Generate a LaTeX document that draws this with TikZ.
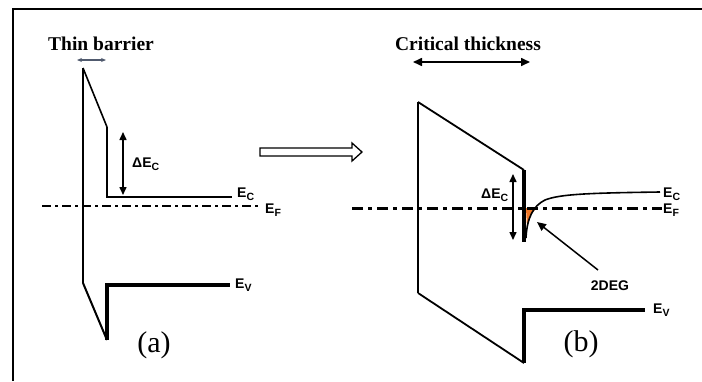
\documentclass[tikz,border=0pt]{standalone}
\usepackage{fontspec}
\setmainfont{Liberation Serif}
\setsansfont{Liberation Sans}
\usetikzlibrary{arrows.meta}
\newcommand\sbs[1]{\raisebox{-0.45ex}{\fontsize{10.5}{10.5}\selectfont #1}}
\definecolor{degorange}{RGB}{240,120,40}
\definecolor{slatearrow}{RGB}{80,90,110}
\begin{document}
\begin{tikzpicture}[x=1pt,y=-1pt,
  thinband/.style={line width=1.8pt, line join=miter},
  thickband/.style={line width=3.2pt, line join=miter},
  lbl/.style={font=\sffamily\bfseries\fontsize{14}{14}\selectfont, inner sep=0, anchor=base west},
  ttl/.style={font=\bfseries\fontsize{19.5}{19.5}\selectfont, inner sep=0, anchor=base},
  panel/.style={font=\fontsize{30}{30}\selectfont, inner sep=0},
  dimarrow/.style={line width=1.5pt, {Triangle[length=8pt,width=7pt]}-{Triangle[length=8pt,width=7pt]}},
  efa/.style={line width=1.4pt, dash pattern=on 9pt off 4pt on 3pt off 4pt},
  efb/.style={line width=3pt, dash pattern=on 11pt off 5pt on 4pt off 5pt}]
\useasboundingbox (0,0) rectangle (702,381);
% frame
\draw[line width=2pt] (13,381) -- (13,9) -- (702,9);

% ---------- panel (a) ----------
\node[ttl] (thin) at (101,50) {Thin barrier};
\coordinate (ta1) at (77,60); \coordinate (ta2) at (106,60);
\draw[slatearrow, line width=1.2pt, {Stealth[length=5pt,width=4pt]}-{Stealth[length=5pt,width=4pt]}] (ta1) -- (ta2);

\coordinate (a1) at (83,68);
\coordinate (a2) at (107,127);
\coordinate (a3) at (107,197);
\coordinate (a4) at (232,197);
\coordinate (a5) at (83,283);
\coordinate (a6) at (107,340);
\coordinate (a7) at (107,285);
\coordinate (a8) at (230,285);
\draw[line width=2.2pt] (a1) -- (a5);
\draw[thinband, line width=1.6pt] (a1) -- (a2);
\draw[thinband, line width=2.4pt] (a2) -- (a3) -- (a4);
\draw[thinband, line width=2pt] (a5) -- (a6);
\draw[thickband, line width=3.6pt] (a6) -- (a7) -- (a8);

\coordinate (fa1) at (42,206); \coordinate (fa2) at (258,206);
\draw[efa] (fa1) -- (fa2);

\coordinate (da1) at (123,132); \coordinate (da2) at (123,195);
\draw[dimarrow] (da1) -- (da2);
\node[lbl] (dEa) at (132,167) {ΔE\sbs{C}};
\node[lbl] (Eca) at (237,197) {E\sbs{C}};
\node[lbl] (Efa) at (265,213) {E\sbs{F}};
\node[lbl] (Eva) at (235,288) {E\sbs{V}};
\node[panel] (pa) at (154,345) {(a)};

% ---------- block arrow ----------
\draw[line width=1.3pt, fill=white, line join=miter]
  (260,148) -- (352,148) -- (352,143) -- (362,152) -- (352,161) -- (352,156) -- (260,156) -- cycle;

% ---------- panel (b) ----------
\node[ttl] (crit) at (468,50) {Critical thickness};
\coordinate (tb1) at (413,62); \coordinate (tb2) at (530,62);
\draw[line width=1.6pt, {Triangle[length=9pt,width=8pt]}-{Triangle[length=9pt,width=8pt]}] (tb1) -- (tb2);

\coordinate (b1) at (418,102);
\coordinate (b2) at (524,170);
\coordinate (b3) at (524,242);
\coordinate (b5) at (418,293);
\coordinate (b6) at (524,363);
\coordinate (b7) at (524,310);
\coordinate (b8) at (645,310);
% orange 2DEG
\fill[degorange] (526,208) -- (537,208) .. controls (531,213) and (528,219) .. (527,228) -- cycle;
\draw[thinband] (b1) -- (b5);
\draw[thinband] (b1) -- (b2);
\draw[thinband] (b5) -- (b6);
\draw[thickband] (b2) -- (b3);
\draw[thickband] (b6) -- (b7) -- (b8);

\coordinate (fb1) at (352,208); \coordinate (fb2) at (662,208);
\draw[efb] (fb1) -- (fb2);

\coordinate (c0) at (526,238);
\coordinate (cm) at (545,200);
\coordinate (c1) at (660,192);
\draw[line width=1.6pt] (c0) .. controls (527,218) and (533,206) .. (cm) .. controls (560,194) and (590,193) .. (c1);

\coordinate (db1) at (513,174); \coordinate (db2) at (513,240);
\draw[dimarrow] (db1) -- (db2);
\node[lbl] (dEb) at (481,198) {ΔE\sbs{C}};
\node[lbl] (Ecb) at (663,197) {E\sbs{C}};
\node[lbl] (Efb) at (663,213) {E\sbs{F}};
\node[lbl] (Evb) at (653,313) {E\sbs{V}};
\node[lbl, anchor=base] (deg) at (610,290) {2DEG};
\coordinate (degtip) at (537,222);
\draw[line width=1.5pt, -{Triangle[length=9pt,width=8pt]}] (598,270) -- (degtip);
\node[panel] (pb) at (581,344) {(b)};
\end{tikzpicture}
\end{document}
